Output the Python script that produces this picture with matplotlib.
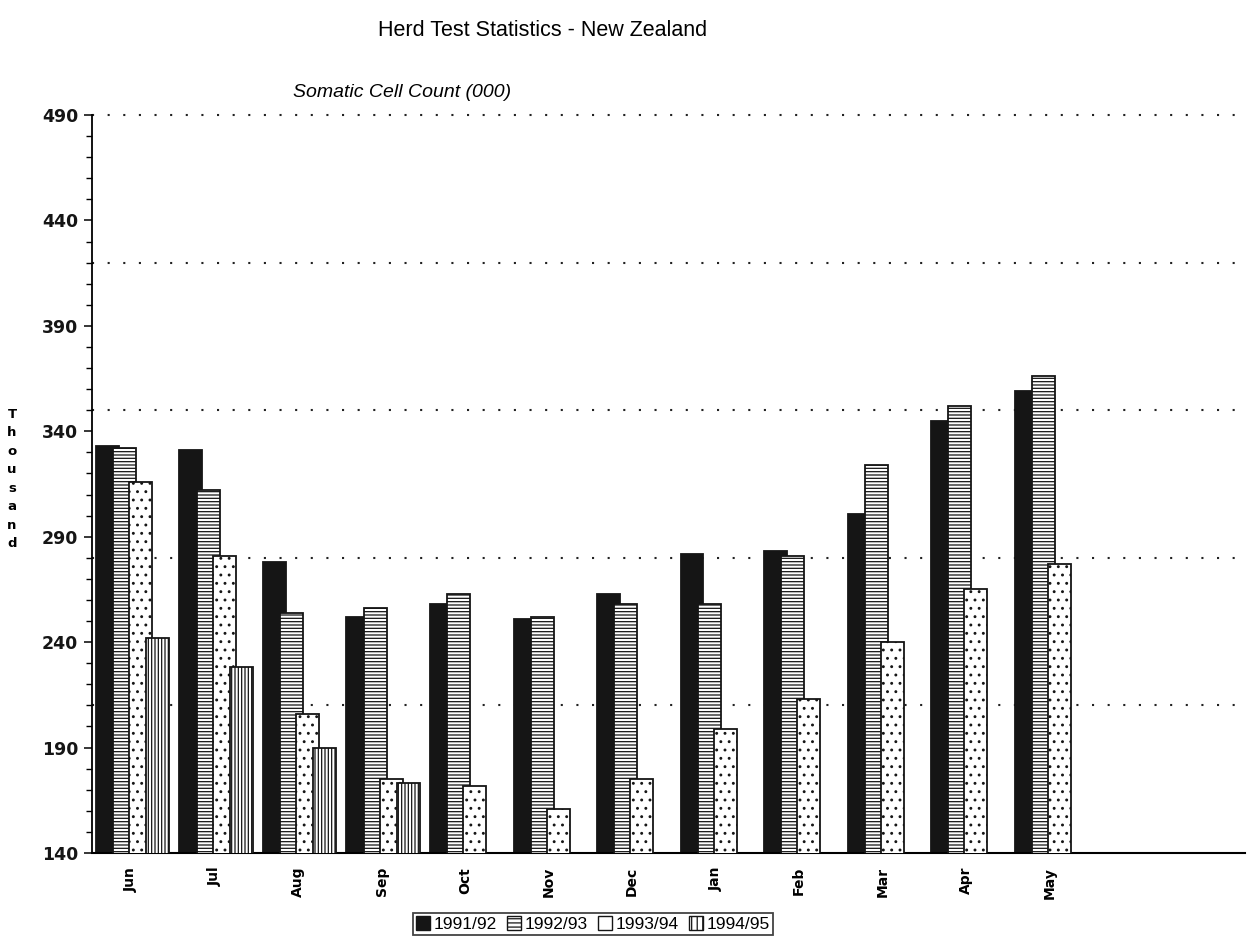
import numpy as np
import matplotlib
matplotlib.use("Agg")
import matplotlib.pyplot as plt
from matplotlib.patches import Patch

months = ["Jun", "Jul", "Aug", "Sep", "Oct", "Nov", "Dec", "Jan", "Feb", "Mar", "Apr", "May"]
seasons = ["1991/92", "1992/93", "1993/94", "1994/95"]

scc_9192 = [333, 331, 278, 252, 258, 251, 263, 282, 283, 301, 345, 359]
scc_9293 = [332, 312, 254, 256, 263, 252, 258, 258, 281, 324, 352, 366]
scc_9394 = [316, 281, 206, 175, 172, 161, 175, 199, 213, 240, 265, 277]
scc_9495 = [242, 228, 190, 173, np.nan, np.nan, np.nan, np.nan, np.nan, np.nan, np.nan, np.nan]

y_ticks = [140, 190, 240, 290, 340, 390, 440, 490]
grid_levels = [210, 280, 350, 420, 490]

narrow = ["Liberation Sans Narrow", "Liberation Sans", "DejaVu Sans"]
plt.rcParams["hatch.linewidth"] = 0.9

fig = plt.figure(figsize=(12.48, 9.42), dpi=100)
ax = fig.add_axes([0.0737, 0.0945, 0.9239, 0.7834])

x = np.arange(len(months))
width = 0.275
styles = [
    dict(color="#151515", edgecolor="#151515"),
    dict(color="white", edgecolor="#151515", hatch="-----"),
    dict(color="white", edgecolor="#151515", hatch=".."),
    dict(color="white", edgecolor="#151515", hatch="|||||"),
]
offsets = [0.0, 0.205, 0.40, 0.60]

for k, vals in enumerate([scc_9192, scc_9293, scc_9394, scc_9495]):
    ax.bar(x + offsets[k], vals, width=width, align="edge", linewidth=1.3,
           zorder=2 + k, **styles[k])

for g in grid_levels:
    ax.axhline(g, color="#222222", linewidth=1.5, linestyle=(0, (1, 6.5)),
               clip_on=False, zorder=1)

ax.set_xlim(-0.048, 13.76)
ax.set_ylim(140, 490)
ax.set_yticks(y_ticks)
ax.set_yticks(np.arange(140, 491, 10), minor=True)
ax.tick_params(axis="y", which="major", length=6, width=1.2, pad=4,
               labelsize=12.5, colors="#151515")
ax.tick_params(axis="y", which="minor", length=4, width=1.0)
for lab in ax.get_yticklabels():
    lab.set_fontweight("bold")

ax.set_xticks(x + 0.42)
ax.set_xticklabels(months, rotation=90, fontsize=10, fontweight="bold")
ax.tick_params(axis="x", length=0, pad=10)

for s in ["top", "right"]:
    ax.spines[s].set_visible(False)
ax.spines["left"].set_linewidth(1.3)
ax.spines["bottom"].set_linewidth(1.5)

fig.text(0.435, 0.968, "Herd Test Statistics - New Zealand", ha="center",
         va="center", fontsize=15.5, family=narrow)
fig.text(0.322, 0.902, "Somatic Cell Count (000)", ha="center", va="center",
         fontsize=14, style="italic", family=narrow)
fig.text(0.0096, 0.4915, "\n".join("Thousand"), ha="center", va="center",
         fontsize=9.5, fontweight="bold", linespacing=1.55)

handles = [
    Patch(facecolor="#151515", edgecolor="#151515"),
    Patch(facecolor="white", edgecolor="#151515", hatch="----"),
    Patch(facecolor="white", edgecolor="#151515"),
    Patch(facecolor="white", edgecolor="#151515", hatch="|||"),
]
leg = fig.legend(handles, seasons, loc="upper center", bbox_to_anchor=(0.475, 0.031),
                 ncol=4, frameon=True, fancybox=False, handlelength=0.8,
                 handleheight=0.8, handletextpad=0.2, columnspacing=0.6,
                 borderpad=0.2, borderaxespad=0, prop=dict(family=narrow, size=12.5))
leg.get_frame().set_edgecolor("#151515")
leg.get_frame().set_linewidth(1.3)

fig.savefig("out.png", dpi=100)
